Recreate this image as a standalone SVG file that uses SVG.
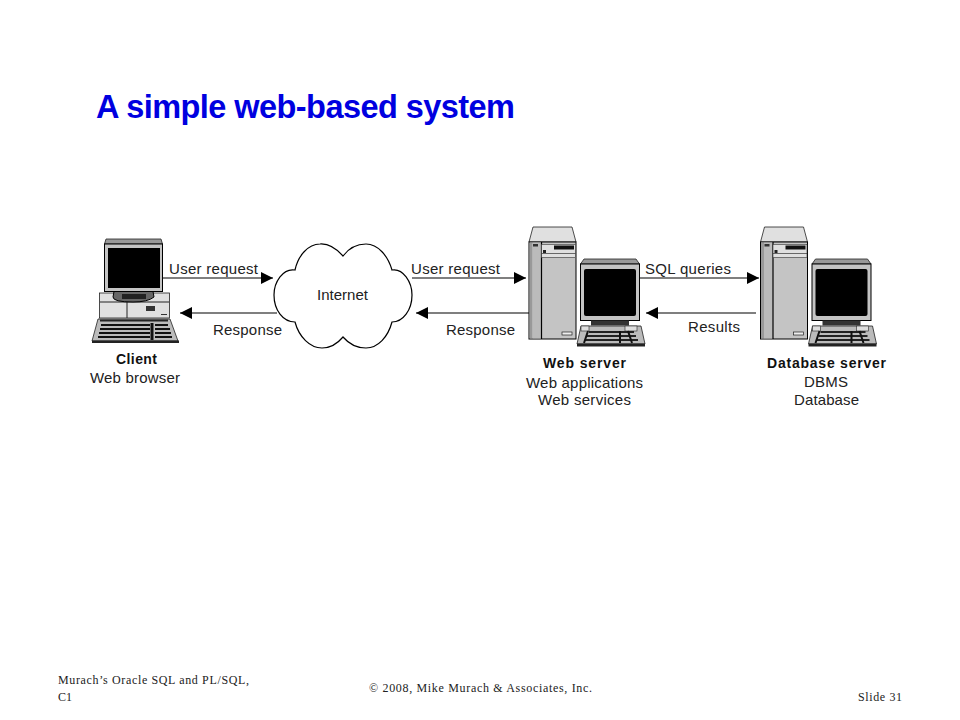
<svg xmlns="http://www.w3.org/2000/svg" width="960" height="720" viewBox="0 0 960 720">
<style>
text{font-family:"Liberation Sans",Arial,sans-serif;font-size:15px;fill:#222}
.m{text-anchor:middle}
.b{font-weight:bold;font-size:14px;fill:#111}
.foot{font-family:"Liberation Serif","Times New Roman",serif;font-size:12px;fill:#222}
.t{font-size:32.500px;font-weight:bold;fill:#0000e0}
.ln{stroke:#000;stroke-width:1.200;fill:none}
.g1{fill:#c4c4c4;stroke:#000;stroke-width:1}
.g2{fill:#e0e0e0;stroke:#222;stroke-width:.8}
.dk{fill:#000}
</style>
<defs>
<marker id="ah" viewBox="0 0 12 12" refX="12" refY="6" markerWidth="12" markerHeight="12" markerUnits="userSpaceOnUse" orient="auto"><path d="M0 0L12 6L0 12Z" fill="#000"/></marker>
<g id="server">
<path class="g2" d="M533 227H572L576 242H529Z"/>
<rect class="g1" x="529" y="242" width="47" height="97"/>
<rect x="529.500" y="242.500" width="3" height="96" fill="#999"/>
<rect x="532.500" y="242.500" width="9" height="96" fill="#bbb"/>
<path d="M541.500 242V339" stroke="#000" stroke-width="1.200"/>
<rect x="533" y="244" width="5" height="2.500" fill="#333"/>
<rect x="541.500" y="244.500" width="34" height="13" fill="#e0e0e0" stroke="#333" stroke-width=".6"/>
<rect x="554" y="245.500" width="20" height="4" fill="#111"/>
<rect x="543" y="250" width="3" height="3" fill="#222"/>
<path d="M541.500 253.500H575.500" stroke="#333" stroke-width=".7"/>
<rect x="562" y="332" width="10" height="3" fill="#eee" stroke="#222" stroke-width=".7"/>
<path d="M584 259H636L639.500 264H580.500Z" fill="#999" stroke="#222" stroke-width=".8"/>
<rect class="g1" x="580.500" y="264" width="59" height="56.500"/>
<rect class="dk" x="584" y="269" width="52" height="47" rx="2"/>
<rect x="591" y="320.500" width="38" height="5" fill="#333"/>
<path d="M581 326H641L645 344H577Z" fill="#bbb" stroke="#222" stroke-width=".8"/>
<rect x="577" y="343.500" width="68" height="3" fill="#222"/>
<rect x="581" y="326" width="8" height="5" fill="#ddd" stroke="#222" stroke-width=".6"/>
<rect x="625" y="326" width="12" height="5" fill="#ddd" stroke="#222" stroke-width=".6"/>
<path d="M589 332H634M587 336H636M585 340H638" stroke="#222" stroke-width="1.800"/>
<path d="M588 331L584 343M620 331V343M628 331L632 343" stroke="#111" stroke-width="2"/>
</g>
</defs>

<text class="t" x="96" y="118" textLength="419">A simple web-based system</text>

<g id="connectors">
<path class="ln" marker-end="url(#ah)" d="M160 278H273"/>
<path class="ln" marker-end="url(#ah)" d="M277 313H180"/>
<path class="ln" marker-end="url(#ah)" d="M412 278H526"/>
<path class="ln" marker-end="url(#ah)" d="M529 313H416"/>
<path class="ln" marker-end="url(#ah)" d="M637 278H759"/>
<path class="ln" marker-end="url(#ah)" d="M756 313H646"/>
</g>

<g id="client">
<path d="M106 239H161L162.500 244H104.500Z" fill="#999" stroke="#222" stroke-width=".8"/>
<rect class="g1" x="104.500" y="244" width="58" height="47.500"/>
<rect class="dk" x="108" y="248" width="52" height="40"/>
<rect class="g2" x="99.500" y="293" width="70" height="25"/>
<path d="M100 302H169M127 302V318" stroke="#222"/>
<path d="M114 291.500H153L154 297Q148 302 133 302Q113 302 113 297Z" fill="#666" stroke="#000" stroke-width="1"/>
<rect x="122" y="294" width="24" height="5" fill="#222"/>
<rect x="146" y="306" width="9" height="5" fill="#333"/>
<rect x="161" y="314" width="6" height="1" fill="#333"/>
<path d="M98 319H170L178 341H92Z" fill="#bbb" stroke="#222" stroke-width=".8"/>
<rect x="92" y="340.500" width="87" height="2.500" fill="#222"/>
<path d="M100 320.500H168" stroke="#222" stroke-width="2"/>
<path d="M101 325H150M100 329H150M99 333H150M98 337H150M155 325H168M155 329H170M155 333H171M155 337H172" stroke="#111" stroke-width="2"/>
<path d="M152 323V340" stroke="#111" stroke-width="3"/>
<text class="m b" x="136.500" y="364" textLength="41">Client</text>
<text class="m" x="135" y="383" textLength="90">Web browser</text>
</g>

<g id="internet">
<path fill="#fff" stroke="#000" stroke-width="1.200" d="M343 256C335 247 327 243.500 320 244C308 244 298 256 295 270C283 268 274 282 274 295C274 310 283 322 295 322C299 337 310 348 322 348C331 348 338 343 343 337C349 344 357 348 366 348C378 348 388 337 392 322C403 322 412 310 412 295C412 282 403 268 392 270C388 256 378 244 366 244C358 244 349 248 343 256Z"/>
<text class="m" x="342.500" y="300" textLength="51">Internet</text>
</g>

<g id="web-server">
<use href="#server"/>
<text class="m b" x="584.500" y="368" textLength="83">Web server</text>
<text class="m" x="584.500" y="388" textLength="117">Web applications</text>
<text class="m" x="584.500" y="405" textLength="93">Web services</text>
</g>

<g id="database-server">
<use href="#server" transform="translate(231.500 0)"/>
<text class="m b" x="826.500" y="368" textLength="119">Database server</text>
<text class="m" x="826" y="387" textLength="44">DBMS</text>
<text class="m" x="826.500" y="405" textLength="65">Database</text>
</g>

<g id="labels">
<text x="169" y="274" textLength="89">User request</text>
<text x="213" y="335" textLength="69">Response</text>
<text x="411" y="274" textLength="89">User request</text>
<text x="446" y="335" textLength="69">Response</text>
<text x="645" y="274" textLength="86">SQL queries</text>
<text x="688" y="332" textLength="52">Results</text>
</g>

<g id="footer">
<text class="foot" x="58" y="684" textLength="191">Murach’s Oracle SQL and PL/SQL,</text>
<text class="foot" x="58" y="701" textLength="14">C1</text>
<text class="foot" x="369" y="692" textLength="223">© 2008, Mike Murach &amp; Associates, Inc.</text>
<text class="foot" x="858" y="701" textLength="44">Slide 31</text>
</g>
</svg>
